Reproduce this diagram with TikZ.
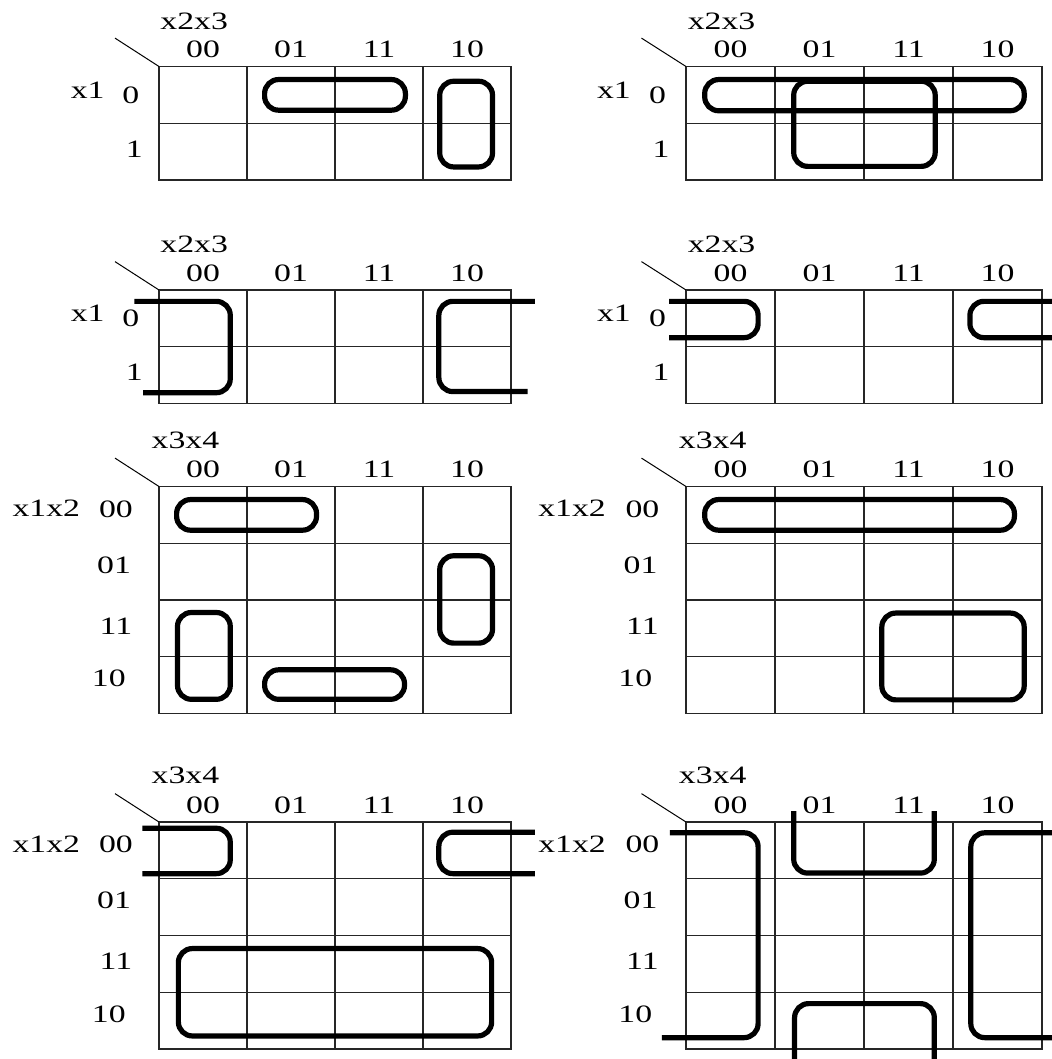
\documentclass[tikz,border=0pt]{standalone}
\usepackage{fontspec}
\setmainfont{Liberation Serif}[FakeStretch=1.35]

\begin{document}
\begin{tikzpicture}[x=0.5pt,y=-0.5pt,
  kgrid/.style={line width=0.55pt,black!85},
  kloop/.style={line width=2.6pt,rounded corners=7pt},
  lbl/.style={inner sep=0pt,font=\fontsize{12.5}{14}\selectfont},
  lcells/.style={x=44pt,y=-28.375pt},
  rcells/.style={x=44.5pt,y=-28.375pt},
  map2/.pic={
    \draw[kgrid] (0,0) rectangle (4,2);
    \foreach \i in {1,2,3} \draw[kgrid] (\i,0) -- (\i,2);
    \draw[kgrid] (0,1) -- (4,1);
    \draw[line width=0.5pt] (0,0) -- (-0.5,-0.5);
    \node[lbl] (vars) at (0.4,-0.8) {x2x3};
    \foreach \cc/\lab in {0/00,1/01,2/11,3/10} \node[lbl] (col\cc) at (\cc+0.5,-0.3) {\lab};
    \node[lbl] (rvar) at (-0.81,0.41) {x1};
    \node[lbl] (row0) at (-0.32,0.5) {0};
    \node[lbl] (row1) at (-0.28,1.45) {1};
  },
  map4/.pic={
    \draw[kgrid] (0,0) rectangle (4,4);
    \foreach \i in {1,2,3} {\draw[kgrid] (\i,0) -- (\i,4); \draw[kgrid] (0,\i) -- (4,\i);}
    \draw[line width=0.5pt] (0,0) -- (-0.5,-0.5);
    \node[lbl] (vars) at (0.3,-0.82) {x3x4};
    \foreach \cc/\lab in {0/00,1/01,2/11,3/10} \node[lbl] (col\cc) at (\cc+0.5,-0.3) {\lab};
    \node[lbl] (rvar) at (-1.28,0.39) {x1x2};
    \foreach \rr/\lab/\px/\py in {0/00/-0.49/0.4, 1/01/-0.51/1.38, 2/11/-0.49/2.46, 3/10/-0.57/3.38}
      \node[lbl] (row\rr) at (\px,\py) {\lab};
  }]
\useasboundingbox (0,0) rectangle (1052,1059);

% three variables
\begin{scope}[shift={(159,66.5)},lcells]
\pic (a) at (0,0) {map2};
\draw[kloop] (1.2,0.23) rectangle (2.8,0.77);
\draw[kloop] (3.19,0.26) rectangle (3.79,1.77);
\end{scope}

\begin{scope}[shift={(686,66.5)},rcells]
\pic (b) at (0,0) {map2};
\draw[kloop] (0.21,0.23) rectangle (3.8,0.78);
\draw[kloop] (1.21,0.26) rectangle (2.8,1.76);
\end{scope}

\begin{scope}[shift={(159,290)},lcells]
\pic (c) at (0,0) {map2};
\draw[kloop] (-0.28,0.2) -- (0.81,0.2) -- (0.81,1.81) -- (-0.18,1.81);
\draw[kloop] (4.27,0.2) -- (3.18,0.2) -- (3.18,1.79) -- (4.19,1.79);
\end{scope}

\begin{scope}[shift={(686,290)},rcells]
\pic (d) at (0,0) {map2};
\draw[kloop] (-0.19,0.2) -- (0.81,0.2) -- (0.81,0.84) -- (-0.19,0.84);
\draw[kloop] (4.2,0.2) -- (3.19,0.2) -- (3.19,0.84) -- (4.2,0.84);
\end{scope}

% four variables
\begin{scope}[shift={(159,486.5)},lcells]
\pic (e) at (0,0) {map4};
\draw[kloop] (0.2,0.23) rectangle (1.79,0.77);
\draw[kloop] (3.19,1.22) rectangle (3.79,2.76);
\draw[kloop] (0.21,2.22) rectangle (0.81,3.75);
\draw[kloop] (1.2,3.23) rectangle (2.79,3.75);
\end{scope}

\begin{scope}[shift={(686,486.5)},rcells]
\pic (f) at (0,0) {map4};
\draw[kloop] (0.21,0.23) rectangle (3.69,0.77);
\draw[kloop] (2.2,2.23) rectangle (3.8,3.76);
\end{scope}

\begin{scope}[shift={(159,822)},lcells]
\pic (g) at (0,0) {map4};
\draw[kloop] (-0.19,0.11) -- (0.81,0.11) -- (0.81,0.91) -- (-0.19,0.91);
\draw[kloop] (4.27,0.18) -- (3.18,0.18) -- (3.18,0.91) -- (4.27,0.91);
\draw[kloop] (0.22,2.23) rectangle (3.78,3.77);
\end{scope}

\begin{scope}[shift={(686,822)},rcells]
\pic (h) at (0,0) {map4};
\draw[kloop] (-0.18,0.19) -- (0.81,0.19) -- (0.81,3.8) -- (-0.27,3.8);
\draw[kloop] (1.21,-0.19) -- (1.21,0.9) -- (2.79,0.9) -- (2.79,-0.19);
\draw[kloop] (1.22,4.3) -- (1.22,3.2) -- (2.79,3.2) -- (2.79,4.3);
\draw[kloop] (4.2,0.19) -- (3.2,0.19) -- (3.2,3.8) -- (4.2,3.8);
\end{scope}
\end{tikzpicture}
\end{document}
